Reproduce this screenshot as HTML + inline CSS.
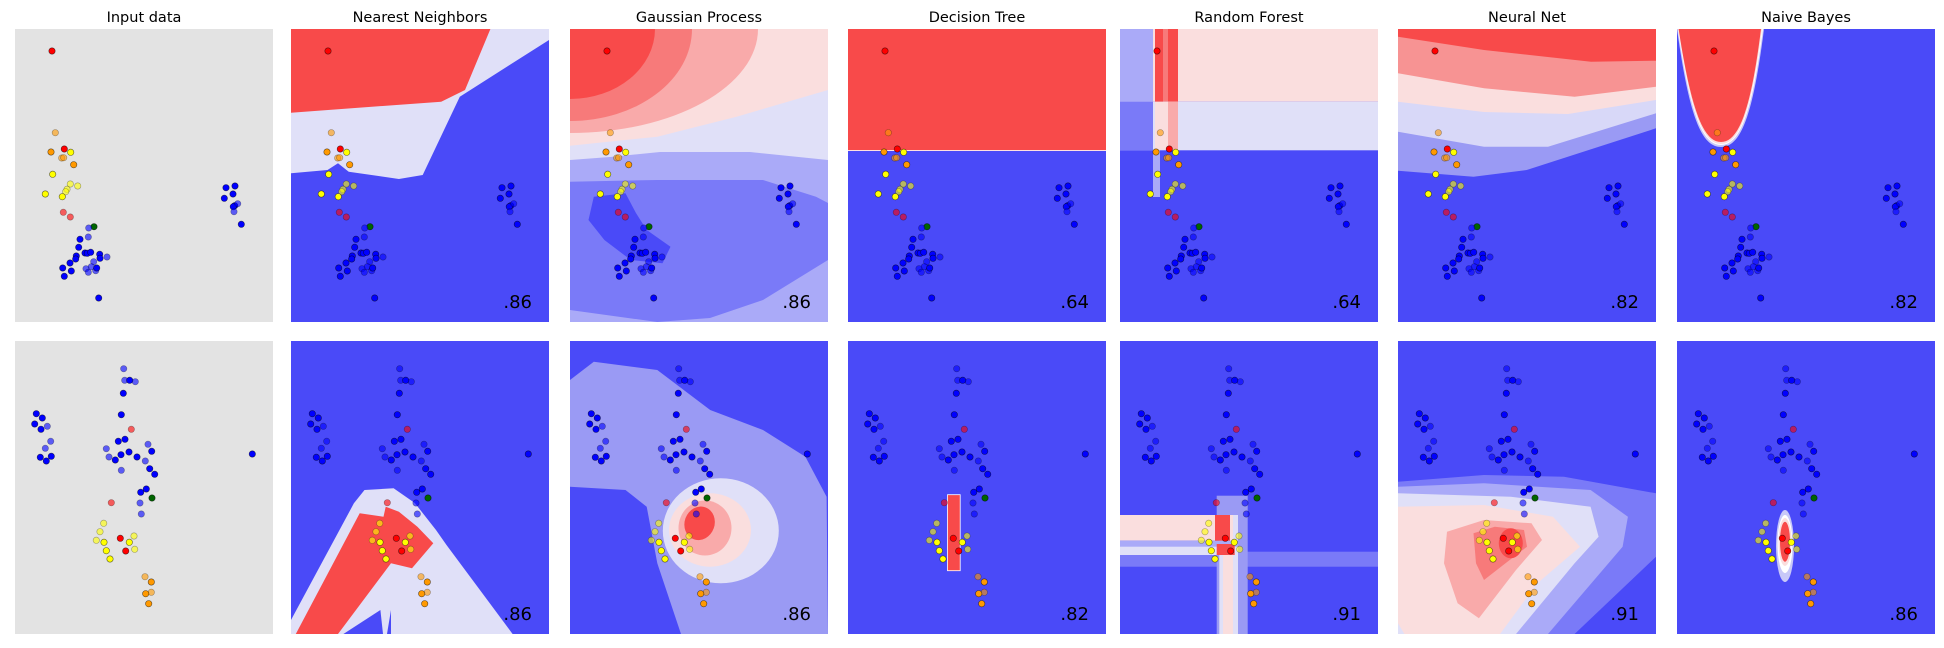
<!DOCTYPE html>
<html><head><meta charset="utf-8"><title>Classifier comparison</title>
<style>
html,body{margin:0;padding:0;background:#fff;}
svg{display:block;}
text{font-family:"DejaVu Sans","Liberation Sans",sans-serif;}
</style></head>
<body>
<svg id="fig" width="1944" height="648" viewBox="0 0 1944 648" xmlns="http://www.w3.org/2000/svg">
<defs id="defs"></defs>
</svg>
<script>
// ---- data ----
const titles = ["Input data","Nearest Neighbors","Gaussian Process","Decision Tree","Random Forest","Neural Net","Naive Bayes"];
const scoresTop = [null,".86",".86",".64",".64",".82",".82"];
const scoresBot = [null,".86",".86",".82",".91",".91",".86"];
// dataset 1 (top row) points, in panel data units (0..258 x, 0..293 y from top)
const topX = [37,40.3,36,49.3,55.7,46.7,48.7,58.7,37.7,55.3,62.7,52,50.7,30.3,47.3,48.3,55.3,79,73.7,73.3,65,63.7,70,72.3,75.7,84.7,85,92,78.7,76.3,61.3,60.7,55,47.7,56.3,49.3,71,73.3,80.7,81.7,83.7,211,220,218,209.3,219.7,218.3,222.7,219,226.3];
const topY = [22,103.7,123,120,123.3,129,128.7,135.7,145.3,155,157,160.3,162.7,165,167.7,183.3,188,197.7,199,208,210.3,218.3,224,224.3,223.3,225.3,229.3,228,232.7,237.7,227,230,234,239,242,247.3,239.7,243.3,241.7,239,269,158.7,157,165,169.3,176.7,177.7,174.7,182.7,195.3];
const topC = ["r","o","o","r","y","o","o","o","y","y","y","y","y","y","y","r","r","g","b","b","b","b","b","b","b","b","b","b","b","b","b","b","b","b","b","b","b","b","b","b","b","b","b","b","b","b","b","b","b","b"];
const topL = [0,1,0,0,0,1,1,0,0,1,1,1,1,0,0,1,1,0,1,1,0,0,0,0,0,0,0,1,1,1,0,0,0,0,0,0,1,1,1,0,0,0,0,0,0,0,0,1,1,0];
// dataset 2 (bottom row)
const botX = [108.7,109.7,120.3,114.7,108.3,106.3,116.3,103.3,110,21.3,27.3,19.7,26,32.3,35.7,30.3,25.3,31.3,36.3,91.3,94,106,100.3,114,122,106.3,133,130.3,136.7,134.7,139.7,237.3,125.7,131.3,137,125,126.3,96.3,88.7,85,81.3,89,91.3,95,105.3,110.7,114.3,119,119.7,130,136.3,136.3,130.7,133.7];
const botY = [27.7,39.3,40.7,39.3,52.3,73.7,88.3,100.3,98.3,72.7,77,83,88.3,85.3,100.3,107.3,116.3,120,115.3,107.7,116,113.7,119,111,116,129.3,103.3,120,110.3,127.7,133.3,113,151.3,148,157,162,173,161.7,182.3,190.7,199.3,201.3,209.7,218,197.3,210,201.3,195,208.3,235.7,251.3,241,252.7,262.7];
const botC = ["b","b","b","b","b","b","r","b","b","b","b","b","b","b","b","b","b","b","b","b","b","b","b","b","b","b","b","b","b","b","b","b","b","b","g","b","b","r","y","y","y","y","y","y","r","r","y","y","y","o","o","o","o","o"];
const botL = [1,1,1,0,0,0,1,0,0,0,0,0,0,1,1,1,0,0,0,1,1,0,0,0,0,1,1,1,0,0,0,0,0,0,0,1,1,1,1,1,1,0,0,0,0,0,0,1,1,1,1,0,0,0];

// ---- layout ----
const lefts = [15,291,570,848,1120,1398,1677];
const tops = [29,341];
const PW = 258, PH = 293;
const sx = d => d / 258 * PW;
const sy = d => d / 293 * PH;
const colors = {r:"#ff0000",o:"#ff9900",y:"#ffff00",g:"#006400",b:"#0000ff"};

const NS = "http://www.w3.org/2000/svg";
const svg = document.getElementById("fig");
const defs = document.getElementById("defs");

const B0="#4a4af8",B1="#7a7af8",B2="#aaaaf8",LV="#e0e0f8",PK="#fadede",R2="#f9aaaa",R1="#f77a7a",R0="#f84a4a";

function poly(pts,fill){return `<polygon points="${pts}" fill="${fill}"/>`;}
const bgTop = [
  `<rect width="258" height="293" fill="#e3e3e3"/>`,
  `<rect width="258" height="293" fill="${B0}"/>`+
  poly("0,0 258,0 258,11 168.8,67.7 131.7,146 107.9,150 57.7,142.7 47,134.3 36.5,141 0,144.3",LV)+
  poly("0,0 199.4,0 174,61 150.2,72.7 0,83.7",R0),
  `<rect width="258" height="293" fill="${B2}"/>`+
  poly("0,152.7 87.3,151 193,151 246,167.7 258,174 258,231 193,271 140,289 87.3,293 0,281",B1)+
  poly("23.8,167.7 55.5,164.3 66.1,184.3 76.7,201 100.5,217.7 92.5,234.3 60.8,231 34.4,211 18.5,191",B0)+
  poly("0,0 258,0 258,131 180,123 90,123 40,128 0,131",LV)+
  poly("0,0 258,0 258,61 166.6,87.7 87.3,107.7 0,116.7",PK)+
  `<ellipse cx="0" cy="0" rx="188" ry="104" fill="${R2}"/>`+
  `<ellipse cx="0" cy="0" rx="122" ry="92" fill="${R1}"/>`+
  `<ellipse cx="0" cy="0" rx="85" ry="70" fill="${R0}"/>`,
  `<rect width="258" height="293" fill="${B0}"/><rect width="258" height="121.7" fill="${R0}"/><rect y="121" width="258" height="1" fill="#ffe0e0"/>`,
  `<rect width="258" height="293" fill="${B0}"/><rect width="258" height="72.7" fill="${PK}"/><rect y="72.7" width="258" height="48.6" fill="${LV}"/>`+
  `<rect width="33" height="72.7" fill="${B2}"/><rect y="72.7" width="33" height="48.6" fill="${B1}"/>`+
  `<rect x="33" y="121" width="7" height="47" fill="${B2}"/>`+
  `<rect x="35" width="23" height="72.7" fill="${R1}"/><rect x="35" width="8" height="72.7" fill="${R0}"/><rect x="48" width="10" height="72.7" fill="${R0}"/>`+
  `<rect x="35" y="72.7" width="23" height="48" fill="${PK}"/><rect x="48" y="72.7" width="10" height="48" fill="${R2}"/>`,
  `<rect width="258" height="293" fill="${B0}"/>`+
  poly("0,0 258,0 258,99.3 128.7,141 75.5,147.7 0,141.7","#9a9af4")+
  poly("0,0 258,0 258,84.3 150,117.7 86,117.7 0,102.7","#d8d8f8")+
  poly("0,0 258,0 258,71 170,85 86,83 0,72.7",PK)+
  poly("0,0 258,0 258,57.7 176.6,67.7 86,59.3 0,44.3","#f79393")+
  poly("0,0 258,0 258,31.7 193,32.7 86,21 0,7.7",R0),
  `<rect width="258" height="293" fill="${B0}"/>`+
  `<path d="M0,0 C12,86 24,118 44,118 C64,118 76,86 87,0 Z" fill="#c8c8f8"/>`+
  `<path d="M0.8,0 C13,84 25,116 44,116 C63,116 75,84 86,0 Z" fill="#ffffff"/>`+
  `<path d="M1.2,0 C13.5,82 25.5,115 44,115 C62.5,115 74.5,82 85,0 Z" fill="${PK}"/>`+
  `<path d="M1.6,0 C14,80 26,113 44,113 C62,113 74,80 84,0 Z" fill="${R0}"/>`
];
const bgBot = [
  `<rect width="258" height="293" fill="#e3e3e3"/>`,
  `<rect width="258" height="293" fill="${B0}"/>`+
  poly("0,293 0,279 62.9,162.3 73.5,149 102.6,147.3 123.8,162 145,189 155.5,204 221.6,293",LV)+
  poly("4.8,293 68.7,172.3 92.5,175.7 94.7,165.7 107.9,170.7 126.4,185.7 142.3,202.3 121,227.3 100,222.3 47,293",R0)+
  poly("52.4,293 89.4,269 92,293",B0)+poly("96,293 100,269 100,293",B0),
  `<rect width="258" height="293" fill="${B0}"/>`+
  poly("0,39 23.8,20.7 87.3,29 140.2,69 193,89 235.4,115.7 256.6,155.7 258,293 111,293 87.3,222.3 76.7,165.7 55.5,149 0,145.7","#9a9af4")+
  `<ellipse cx="150.8" cy="189.8" rx="58" ry="52.5" fill="${LV}"/>`+
  `<ellipse cx="140" cy="189" rx="41" ry="36.7" fill="${PK}"/>`+
  `<ellipse cx="135" cy="187" rx="26.5" ry="27.5" fill="${R2}"/>`+
  `<ellipse cx="129.6" cy="182.3" rx="15" ry="17" fill="${R0}" transform="rotate(20 129.6 182.3)"/>`,
  `<rect width="258" height="293" fill="${B0}"/><rect x="99.5" y="153.7" width="12.7" height="76" fill="${R0}" stroke="#fff" stroke-width="0.8"/>`,
  `<rect width="258" height="293" fill="${B0}"/>`+
  `<rect y="210.7" width="258" height="15" fill="${B1}"/>`+
  `<rect x="96.7" y="154.7" width="31" height="139" fill="#9a9af4"/>`+
  `<rect x="99.3" y="174" width="18.7" height="119" fill="${LV}"/><rect x="103" y="174" width="10" height="119" fill="${PK}"/>`+
  `<rect y="174" width="96.7" height="25.7" fill="${PK}"/>`+
  `<rect y="199.7" width="118" height="11" fill="${B2}"/><rect y="205.7" width="118" height="8.3" fill="${LV}"/>`+
  `<rect x="95" y="174" width="15" height="25.7" fill="${R0}"/><rect x="96.7" y="203" width="18" height="11" fill="${R0}"/>`,
  `<rect width="258" height="293" fill="${B0}"/>`+
  poly("0,140.7 86,134 166,135.7 258,152.3 258,215.7 176.6,293 0,293",B1)+
  poly("0,145.7 86,142.3 192.6,149 229.9,175.7 224.6,205.7 150,293 0,293",B2)+
  poly("0,152.3 112.8,155.7 192.6,165.7 200.6,195.7 176.6,222.3 118,293 0,293",LV)+
  poly("0,165.7 86,164 155,175.7 182,205.7 139.4,242.3 102,293 6.4,293 0,282.3",PK)+
  poly("49,190.7 86,179 133.5,182.3 144,199 118,229 80.9,277.3 59.6,262.3 46,222.3",R2)+
  poly("75.5,192.3 96.8,185.7 126,189 129,205.7 107.5,222.3 86,239 78,222.3",R1)+
  `<ellipse cx="112.8" cy="202.3" rx="12" ry="15" fill="${R0}"/>`,
  `<rect width="258" height="293" fill="${B0}"/>`+
  `<ellipse cx="108" cy="205" rx="9" ry="36" fill="#c8c8f8"/>`+
  `<ellipse cx="108" cy="203" rx="7.5" ry="29" fill="#ffffff"/>`+
  `<ellipse cx="108" cy="201" rx="6.5" ry="24" fill="${PK}"/>`+
  `<ellipse cx="108" cy="200.7" rx="5" ry="20" fill="${R0}"/>`
];

function drawPoints(g, X, Y, C, L){
  for(let i=0;i<X.length;i++){
    const c=document.createElementNS(NS,"circle");
    c.setAttribute("cx", sx(X[i]).toFixed(1));
    c.setAttribute("cy", sy(Y[i]).toFixed(1));
    c.setAttribute("r","3.2");
    c.setAttribute("fill", colors[C[i]]);
    c.setAttribute("fill-opacity", L[i] ? "0.6" : "1");
    c.setAttribute("stroke","#000");
    c.setAttribute("stroke-opacity", L[i] ? "0.35" : "0.6");
    c.setAttribute("stroke-width","0.6");
    
    
    g.appendChild(c);
  }
}

for(let row=0;row<2;row++){
  for(let col=0;col<7;col++){
    const x0=lefts[col], y0=tops[row];
    const id=`clip${row}_${col}`;
    defs.insertAdjacentHTML("beforeend",`<clipPath id="${id}"><rect width="${PW}" height="${PH}"/></clipPath>`);
    const g=document.createElementNS(NS,"g");
    g.setAttribute("transform",`translate(${x0},${y0})`);
    g.setAttribute("clip-path",`url(#${id})`);
    
    
    const bg=document.createElementNS(NS,"g");
    bg.innerHTML=(row===0?bgTop:bgBot)[col];
    
    
    g.appendChild(bg);
    if(row===0) drawPoints(g,topX,topY,topC,topL);
    else drawPoints(g,botX,botY,botC,botL);
    const sc=(row===0?scoresTop:scoresBot)[col];
    if(sc){
      const t=document.createElementNS(NS,"text");
      t.setAttribute("x",PW-17);t.setAttribute("y",PH-14);
      t.setAttribute("text-anchor","end");t.setAttribute("font-size","18");t.setAttribute("fill","#000");
      t.textContent=sc;
      
      
      g.appendChild(t);
    }
    svg.appendChild(g);
    if(row===0){
      const t=document.createElementNS(NS,"text");
      t.setAttribute("x",x0+PW/2);t.setAttribute("y",22);
      t.setAttribute("text-anchor","middle");t.setAttribute("font-size","14.5");t.setAttribute("fill","#000");
      t.textContent=titles[col];
      
      
      svg.appendChild(t);
    }
  }
}
</script>
</body></html>
